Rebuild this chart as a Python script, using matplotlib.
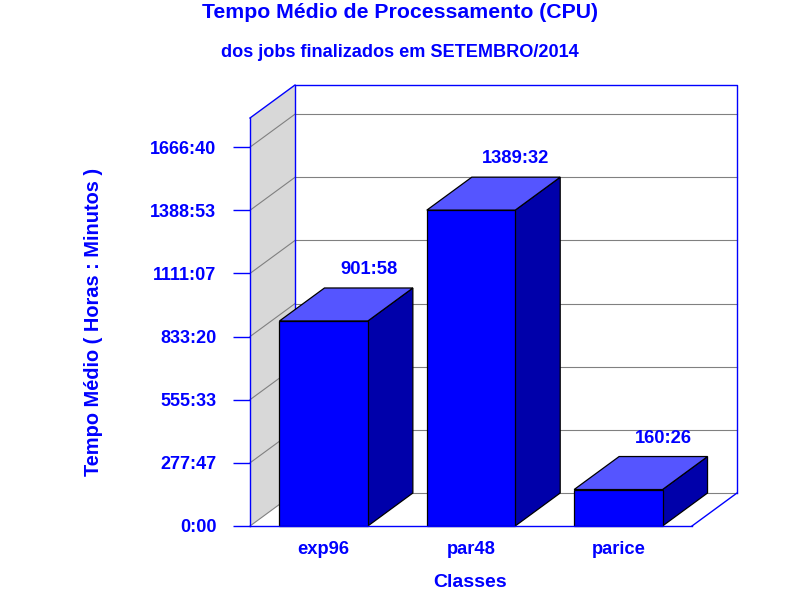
import numpy as np
import matplotlib
matplotlib.use("Agg")
import matplotlib.pyplot as plt
from matplotlib.patches import Polygon, Rectangle

plt.rcParams['font.family'] = ['Liberation Sans', 'DejaVu Sans']
plt.rcParams['font.weight'] = 'bold'

# dados (minutos)
classes = ['exp96', 'par48', 'parice']
tempo_min = [901*60 + 58, 1389*60 + 32, 160*60 + 26]
yticks = np.linspace(0, 100000, 7)
ymax = 107700

BLUE = '#0000ff'
TOP = '#5555ff'
SIDE = '#0000aa'
GRID = '#808080'

def hm(v):
    t = int(round(v))
    h, m = divmod(t, 60)
    return "%d:%02d" % (h, m)

fig = plt.figure(figsize=(8, 6), dpi=100)
# area frontal em pixels: x 250..692, y 118..526
ax = fig.add_axes([250/800, 74/600, 442/800, 408/600])
ax.set_xlim(0, 3)
ax.set_ylim(0, ymax)

# deslocamento 3D (45px, 33px) em unidades de dados
dx = 45 / 442 * 3
dy = 33 / 408 * ymax

# parede do fundo
ax.add_patch(Rectangle((dx, dy), 3, ymax, facecolor='white', edgecolor='none',
                       clip_on=False, zorder=0))
# parede esquerda
ax.add_patch(Polygon([(0, 0), (0, ymax), (dx, ymax + dy), (dx, dy)],
                     closed=True, facecolor='#d8d8d8', edgecolor='none',
                     clip_on=False, zorder=0.5))
# grades
for t in yticks:
    ax.plot([dx, 3 + dx], [t + dy, t + dy], color=GRID, lw=0.8, clip_on=False, zorder=1)
    ax.plot([0, dx], [t, t + dy], color=GRID, lw=0.8, clip_on=False, zorder=1)
# contorno azul
ax.plot([dx, dx, 3 + dx, 3 + dx], [dy, ymax + dy, ymax + dy, dy],
        color=BLUE, lw=1, clip_on=False, zorder=1.5)
ax.plot([0, dx], [ymax, ymax + dy], color=BLUE, lw=1, clip_on=False, zorder=1.5)
ax.plot([3, 3 + dx], [0, dy], color=BLUE, lw=1, clip_on=False, zorder=1.5)

# barras
w = 0.6
for i, v in enumerate(tempo_min):
    x0 = i + 0.5 - w/2
    x1 = i + 0.5 + w/2
    ax.add_patch(Polygon([(x1, 0), (x1 + dx, dy), (x1 + dx, v + dy), (x1, v)],
                         closed=True, facecolor=SIDE, edgecolor='black', lw=0.9,
                         clip_on=False, zorder=3))
    ax.add_patch(Polygon([(x0, v), (x0 + dx, v + dy), (x1 + dx, v + dy), (x1, v)],
                         closed=True, facecolor=TOP, edgecolor='black', lw=0.9,
                         clip_on=False, zorder=3))
    ax.bar(i + 0.5, v, width=w, color=BLUE, edgecolor='black', lw=0.9, zorder=4,
           clip_on=False)
    ax.annotate(hm(v), xy=(i + 0.5 + dx, v + dy), xytext=(0, 10),
                textcoords='offset points', ha='center', va='baseline',
                fontsize=13.2, fontweight='bold', color=BLUE, zorder=5)

# eixos
for s in ['top', 'right']:
    ax.spines[s].set_visible(False)
for s in ['left', 'bottom']:
    ax.spines[s].set_color(BLUE)
    ax.spines[s].set_linewidth(1)
    ax.spines[s].set_zorder(5)
ax.patch.set_alpha(0)

ax.set_yticks(yticks)
ax.set_yticklabels([hm(t) for t in yticks])
ax.tick_params(axis='y', direction='out', length=12.2, width=1, color=BLUE,
               pad=12, labelsize=13, labelcolor=BLUE)
ax.set_xticks([0.5, 1.5, 2.5])
ax.set_xticklabels(classes)
ax.tick_params(axis='x', length=0, pad=11, labelsize=13.2, labelcolor=BLUE)
for lab in ax.get_xticklabels() + ax.get_yticklabels():
    lab.set_fontweight('bold')

fig.text(0.5, 1 - 18.5/600, 'Tempo Médio de Processamento (CPU)', ha='center',
         va='baseline', fontsize=15.3, fontweight='bold', color=BLUE)
fig.text(0.5, 1 - 56.7/600, 'dos jobs finalizados em SETEMBRO/2014', ha='center',
         va='baseline', fontsize=13.1, fontweight='bold', color=BLUE)
fig.text(470/800, 13/600, 'Classes', ha='center', va='baseline',
         fontsize=14, fontweight='bold', color=BLUE)
fig.text(93.5/800, 1 - 322/600, 'Tempo Médio ( Horas : Minutos )', ha='center',
         va='center', rotation=90, fontsize=14.4, fontweight='bold', color=BLUE)

fig.savefig('out.png', dpi=100)
